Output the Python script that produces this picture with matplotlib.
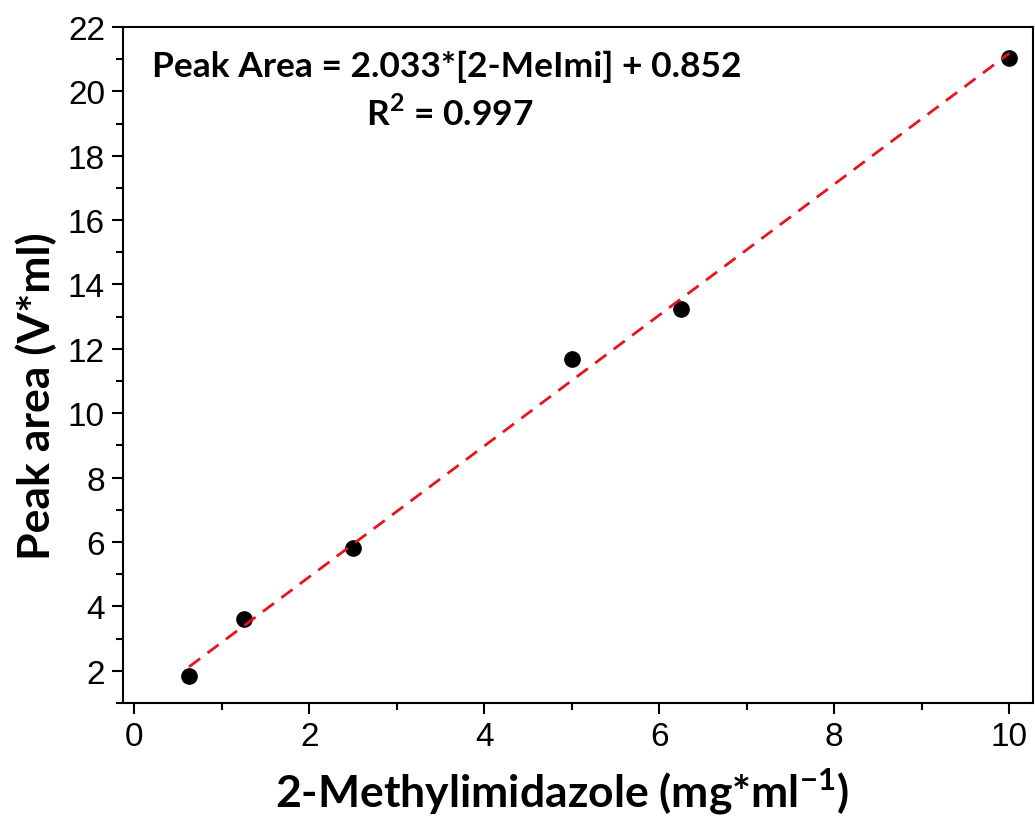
import numpy as np
import matplotlib
matplotlib.use("Agg")
import matplotlib.pyplot as plt
from matplotlib.ticker import MultipleLocator

# calibration data
conc = [0.625, 1.25, 2.5, 5.0, 6.25, 10.0]
peak_area = [1.85, 3.6, 5.8, 11.7, 13.25, 21.05]
slope = 2.033
intercept = 0.852

fig = plt.figure(figsize=(10.35, 8.2), dpi=100)
ax = fig.add_axes([0.1188, 0.1415, 0.8792, 0.8244])

# fitted line
xfit = np.array([conc[0], conc[-1]])
ax.plot(xfit, slope * xfit + intercept, color="#e8141c", lw=2.0,
        dashes=(5, 3.3), zorder=3)
ax.plot(conc, peak_area, "o", color="black", ms=11, zorder=2)

ax.set_xlim(-0.13, 10.27)
ax.set_ylim(1.0, 22)
ax.xaxis.set_major_locator(MultipleLocator(2))
ax.xaxis.set_minor_locator(MultipleLocator(1))
ax.yaxis.set_major_locator(MultipleLocator(2))
ax.yaxis.set_minor_locator(MultipleLocator(1))

for s in ax.spines.values():
    s.set_linewidth(1.5)
ax.tick_params(which="major", direction="out", length=8, width=1.5,
               labelsize=24, pad=5)
ax.tick_params(which="minor", direction="out", length=5, width=1.5)
for lab in ax.get_xticklabels() + ax.get_yticklabels():
    lab.set_fontfamily("Liberation Sans")

ax.set_xlabel("2-Methylimidazole (mg*ml$^{\\mathregular{-1}}$)",
              fontsize=32, fontweight="bold", family="Lato", labelpad=10)
ax.set_ylabel("Peak area (V*ml)", fontsize=32, fontweight="bold",
              family="Lato", labelpad=8)
ax.xaxis.label.set_x(0.483)
ax.yaxis.label.set_y(0.455)

ax.text(0.2, 20.8, "Peak Area = 2.033*[2-MeImi] + 0.852", fontsize=25.5,
        fontweight="bold", family="Lato", va="center", ha="left")
ax.text(3.6, 19.35, "R$^{\\mathregular{2}}$ = 0.997", fontsize=25.5,
        fontweight="bold", family="Lato", va="center", ha="center")

fig.savefig("out.png", dpi=100)
